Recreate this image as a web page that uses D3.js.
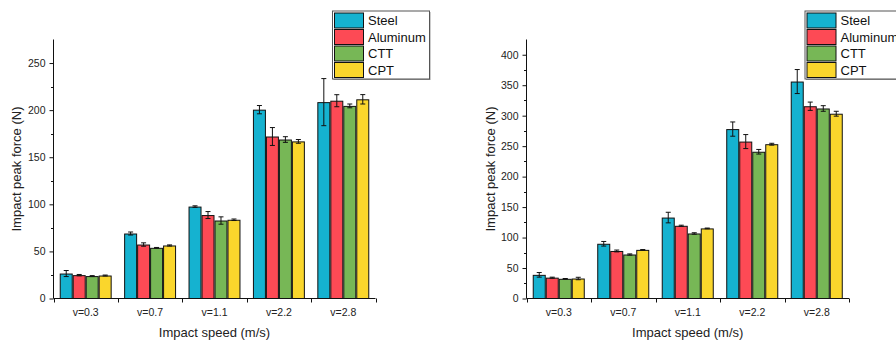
<!DOCTYPE html>
<html>
<head>
<meta charset="utf-8">
<script src="https://cdn.jsdelivr.net/npm/d3@7"></script>
<style>
  body { margin: 0; background: #fff; }
  svg { display: block; font-family: "Liberation Sans", Arial, sans-serif; }
</style>
</head>
<body>
<div id="chart"></div>
<script>
// categories and series
var speeds = ["v=0.3", "v=0.7", "v=1.1", "v=2.2", "v=2.8"];
var materials = ["Steel", "Aluminum", "CTT", "CPT"];
var colors = ["#15b2d0", "#fd4a55", "#77b756", "#fad62c"];

// left panel: mean and error per material (order of speeds)
var leftSteel = [26.5, 69, 97.6, 200.5, 208.5];
var leftSteelErr = [3.2, 1.6, 0.8, 4.4, 25];
var leftAluminum = [24.8, 57.3, 88.6, 172, 210];
var leftAluminumErr = [0.7, 1.8, 3.7, 9.5, 6.4];
var leftCTT = [23.8, 53.8, 82.8, 168.8, 204.5];
var leftCTTErr = [0.5, 0.4, 3.9, 3, 2];
var leftCPT = [24.4, 56.3, 83.6, 166.8, 211.5];
var leftCPTErr = [0.5, 0.6, 0.8, 2, 5];
var leftTicks = [0, 50, 100, 150, 200, 250];

// right panel
var rightSteel = [38.8, 89.8, 132.8, 278, 356];
var rightSteelErr = [3.8, 3.8, 8.7, 11.7, 19.7];
var rightAluminum = [34.2, 78, 119.3, 257.5, 315.5];
var rightAluminumErr = [0.8, 1.5, 1, 11.5, 6.8];
var rightCTT = [32.3, 72.2, 106.7, 240.8, 311.8];
var rightCTTErr = [0.5, 1, 1.2, 3.8, 4.6];
var rightCPT = [32.8, 79.8, 115, 253.2, 303.2];
var rightCPTErr = [2, 0.5, 0.6, 1.5, 4];
var rightTicks = [0, 50, 100, 150, 200, 250, 300, 350, 400];

var svgWidth = 896;
var svgHeight = 343;

var svg = d3.select("#chart").append("svg")
  .attr("width", svgWidth)
  .attr("height", svgHeight);

function drawPanel(opt) {
  var g = svg.append("g");

  var x0 = d3.scaleBand()
    .domain(speeds)
    .range([opt.left, opt.right])
    .padding(0);

  var x1 = d3.scaleBand()
    .domain(materials)
    .range([0, x0.bandwidth()])
    .paddingInner(0)
    .paddingOuter(0.48);

  var y = d3.scaleLinear()
    .domain([0, opt.yMax])
    .range([opt.bottom, opt.top]);

  // bars
  speeds.forEach(function(s, i) {
    materials.forEach(function(m, j) {
      var v = opt.values[j][i];
      var e = opt.errors[j][i];
      var bx = x0(s) + x1(m);
      var bw = x1.bandwidth();
      g.append("rect")
        .attr("x", bx + 0.5)
        .attr("y", y(v) + 0.5)
        .attr("width", bw - 1)
        .attr("height", y(0) - y(v) - 0.5)
        .attr("fill", colors[j])
        .attr("stroke", "#111")
        .attr("stroke-width", 1);

      // error bar
      var cx = bx + bw / 2;
      var eb = g.append("g").attr("stroke", "#111").attr("stroke-width", 1);
      eb.append("line")
        .attr("x1", cx).attr("x2", cx)
        .attr("y1", y(v + e)).attr("y2", y(v - e));
      eb.append("line")
        .attr("x1", cx - 2.5).attr("x2", cx + 2.5)
        .attr("y1", y(v + e)).attr("y2", y(v + e));
      eb.append("line")
        .attr("x1", cx - 2.5).attr("x2", cx + 2.5)
        .attr("y1", y(v - e)).attr("y2", y(v - e));
    });
  });

  // y axis
  var yAxis = d3.axisLeft(y)
    .tickValues(opt.ticks)
    .tickSize(4)
    .tickPadding(4);
  var ya = g.append("g")
    .attr("transform", `translate(${opt.left}, 0)`)
    .call(yAxis);
  ya.select(".domain").attr("d", `M0,${opt.top}V${opt.bottom}`).attr("stroke", "#111");
  ya.selectAll("line").attr("stroke", "#111");
  ya.selectAll("text").attr("font-size", "10.5px").attr("fill", "#222")
    .attr("font-family", "Liberation Sans, Arial, sans-serif");

  // minor y ticks
  var minor = d3.range(25, opt.yMax, 50);
  g.selectAll(".minorY" + opt.id)
    .data(minor)
    .enter()
    .append("line")
    .attr("x1", opt.left - 2.5)
    .attr("x2", opt.left)
    .attr("y1", d => Math.round(y(d)) + 0.5)
    .attr("y2", d => Math.round(y(d)) + 0.5)
    .attr("stroke", "#111");

  // x axis
  var xAxis = d3.axisBottom(x0).tickSize(0).tickPadding(10);
  var xa = g.append("g")
    .attr("transform", `translate(0, ${opt.bottom})`)
    .call(xAxis);
  xa.select(".domain").attr("d", `M${opt.left},0H${opt.right}`).attr("stroke", "#111");
  xa.selectAll("text").attr("font-size", "10.5px").attr("fill", "#222")
    .attr("font-family", "Liberation Sans, Arial, sans-serif");

  // group boundary ticks
  var edges = speeds.map(s => x0(s)).concat([opt.right]);
  g.selectAll(".edge" + opt.id)
    .data(edges)
    .enter()
    .append("line")
    .attr("x1", d => Math.round(d) + 0.5)
    .attr("x2", d => Math.round(d) + 0.5)
    .attr("y1", opt.bottom)
    .attr("y2", opt.bottom + 4)
    .attr("stroke", "#111");

  // axis titles
  g.append("text")
    .attr("transform", "rotate(-90)")
    .attr("x", -(opt.top + opt.bottom) / 2)
    .attr("y", opt.yTitleX)
    .attr("dy", "0.35em")
    .attr("text-anchor", "middle")
    .attr("font-size", "13px")
    .attr("fill", "#222")
    .text("Impact peak force (N)");

  g.append("text")
    .attr("x", (opt.left + opt.right) / 2)
    .attr("y", 337)
    .attr("text-anchor", "middle")
    .attr("font-size", "13px")
    .attr("fill", "#222")
    .text("Impact speed (m/s)");

  // legend
  var lg = g.append("g").attr("transform", `translate(${opt.legendX}, 10.5)`);
  lg.append("rect")
    .attr("x", 1.5).attr("y", 1.5)
    .attr("width", 97).attr("height", 68)
    .attr("fill", "#999");
  lg.append("rect")
    .attr("x", 0.5).attr("y", 0.5)
    .attr("width", 97).attr("height", 68)
    .attr("fill", "#fff")
    .attr("stroke", "#555");
  materials.forEach(function(m, j) {
    lg.append("rect")
      .attr("x", 2.5)
      .attr("y", 2.5 + j * 16.5)
      .attr("width", 29)
      .attr("height", 15)
      .attr("fill", colors[j])
      .attr("stroke", "#111");
    lg.append("text")
      .attr("x", 36)
      .attr("y", 10 + j * 16.5)
      .attr("dy", "0.36em")
      .attr("font-size", "13px")
      .attr("fill", "#111")
      .text(m);
  });
}

drawPanel({
  id: "L",
  left: 53.5, right: 375.5, top: 39.5, bottom: 298.5,
  yMax: 275,
  ticks: leftTicks,
  values: [leftSteel, leftAluminum, leftCTT, leftCPT],
  errors: [leftSteelErr, leftAluminumErr, leftCTTErr, leftCPTErr],
  yTitleX: 16,
  legendX: 332
});

drawPanel({
  id: "R",
  left: 526.5, right: 849, top: 39.5, bottom: 298.5,
  yMax: 425,
  ticks: rightTicks,
  values: [rightSteel, rightAluminum, rightCTT, rightCPT],
  errors: [rightSteelErr, rightAluminumErr, rightCTTErr, rightCPTErr],
  yTitleX: 490,
  legendX: 804.5
});
</script>
</body>
</html>
